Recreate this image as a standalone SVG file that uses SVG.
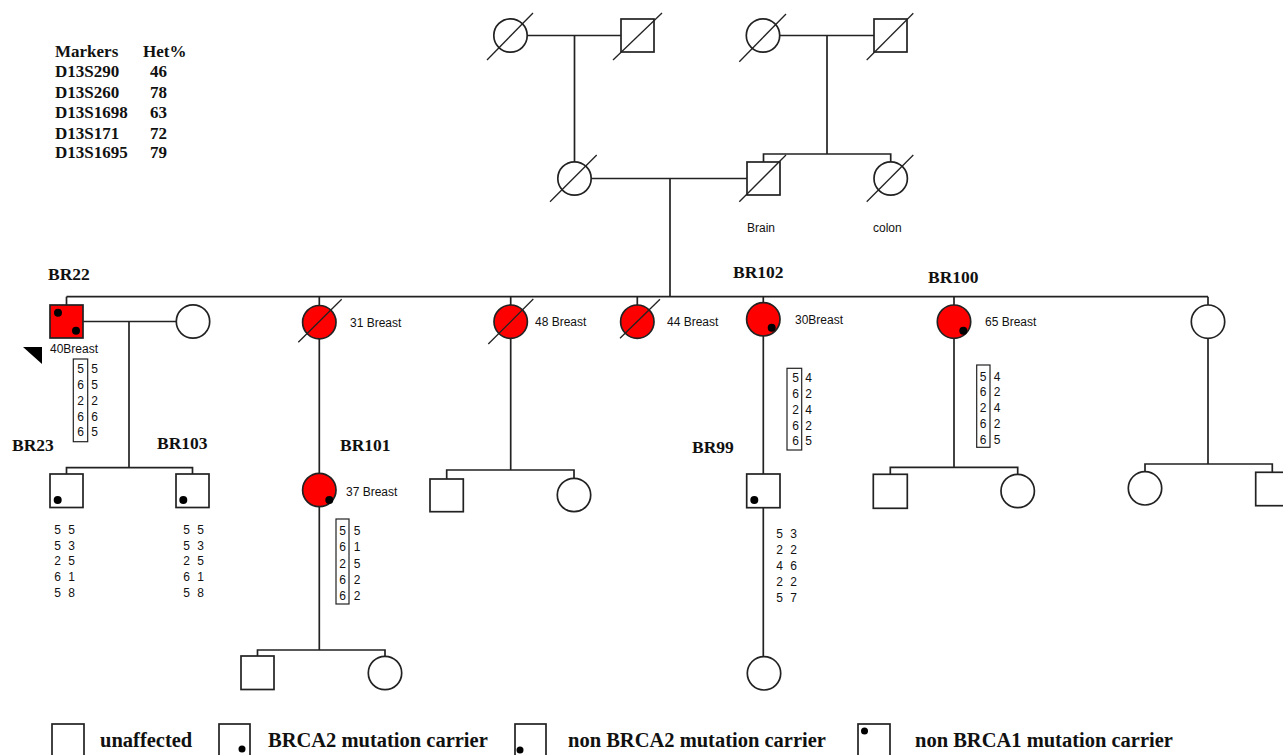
<svg xmlns="http://www.w3.org/2000/svg" width="1283" height="755" viewBox="0 0 1283 755">
<style>
.ln{stroke:#222;stroke-width:1.7;fill:none}
.nd{stroke:#222;stroke-width:1.7;fill:#fff}
.aff{stroke:#222;stroke-width:1.7;fill:#f00}
.sl{stroke:#222;stroke-width:1.3}
.dot{fill:#000}
.gb{stroke:#222;stroke-width:1.2;fill:none}
.sm{font-family:"Liberation Sans",Arial,sans-serif;font-size:12px;fill:#111}
.g{font-family:"Liberation Sans",Arial,sans-serif;font-size:12px;fill:#111;text-anchor:middle}
.lb{font-family:"Liberation Serif","Times New Roman",serif;font-weight:bold;font-size:17.5px;fill:#111}
.tb{font-family:"Liberation Serif","Times New Roman",serif;font-weight:bold;font-size:17px;fill:#111}
.lg{font-family:"Liberation Serif","Times New Roman",serif;font-weight:bold;font-size:20.5px;fill:#111}
</style>
<rect width="1283" height="755" fill="#fff"/>

<g id="markers">
<text class="tb" x="55" y="56.5">Markers</text><text class="tb" x="143" y="56.5">Het%</text>
<text class="tb" x="55" y="77">D13S290</text><text class="tb" x="150" y="77">46</text>
<text class="tb" x="55" y="97.5">D13S260</text><text class="tb" x="150" y="97.5">78</text>
<text class="tb" x="55" y="118">D13S1698</text><text class="tb" x="150" y="118">63</text>
<text class="tb" x="55" y="139">D13S171</text><text class="tb" x="150" y="139">72</text>
<text class="tb" x="55" y="158">D13S1695</text><text class="tb" x="150" y="158">79</text>
</g>

<g id="connectors">
<!-- gen I -->
<line class="ln" x1="527" y1="35.5" x2="621" y2="35.5"/>
<line class="ln" x1="574.5" y1="35.5" x2="574.5" y2="161.8"/>
<line class="ln" x1="780" y1="35.5" x2="874" y2="35.5"/>
<line class="ln" x1="827" y1="35.5" x2="827" y2="154"/>
<polyline class="ln" points="763.5,162 763.5,154 890.7,154 890.7,161.5"/>
<!-- gen II -->
<line class="ln" x1="591.2" y1="178.5" x2="747" y2="178.5"/>
<line class="ln" x1="670" y1="178.5" x2="670" y2="296.7"/>
<line class="ln" x1="66.5" y1="296.7" x2="1208" y2="296.7"/>
<line class="ln" x1="66.5" y1="296.7" x2="66.5" y2="305"/>
<line class="ln" x1="319.3" y1="296.7" x2="319.3" y2="305.5"/>
<line class="ln" x1="510.7" y1="296.7" x2="510.7" y2="305"/>
<line class="ln" x1="637.3" y1="296.7" x2="637.3" y2="305"/>
<line class="ln" x1="763.3" y1="296.7" x2="763.3" y2="302.6"/>
<line class="ln" x1="954" y1="296.7" x2="954" y2="305"/>
<line class="ln" x1="1208" y1="296.7" x2="1208" y2="305"/>
<!-- BR22 family -->
<line class="ln" x1="83" y1="321.5" x2="176.3" y2="321.5"/>
<line class="ln" x1="129" y1="321.5" x2="129" y2="467.7"/>
<polyline class="ln" points="66.5,474 66.5,467.7 192.5,467.7 192.5,474"/>
<!-- 31 Breast line -->
<line class="ln" x1="319.3" y1="339" x2="319.3" y2="473.3"/>
<line class="ln" x1="319.3" y1="506.7" x2="319.3" y2="650"/>
<polyline class="ln" points="257.5,656 257.5,650 385,650 385,656.3"/>
<!-- 48 Breast -->
<line class="ln" x1="510.7" y1="338.4" x2="510.7" y2="470"/>
<polyline class="ln" points="446.7,479 446.7,470 574,470 574,478.3"/>
<!-- BR102 -->
<line class="ln" x1="763.3" y1="336" x2="763.3" y2="474"/>
<line class="ln" x1="763.3" y1="507.7" x2="763.3" y2="656.6"/>
<!-- BR100 -->
<line class="ln" x1="954" y1="338.4" x2="954" y2="467.3"/>
<polyline class="ln" points="890.3,474.3 890.3,467.3 1017.7,467.3 1017.7,474.3"/>
<!-- right -->
<line class="ln" x1="1208" y1="338.4" x2="1208" y2="464"/>
<polyline class="ln" points="1145,471.6 1145,464 1272.3,464 1272.3,472.3"/>
</g>

<g id="gen1-f1"><circle class="nd" cx="510.5" cy="35.5" r="16.7"/><line class="sl" x1="487" y1="60" x2="533" y2="13"/></g>
<g id="gen1-m1"><rect class="nd" x="621" y="19" width="33" height="33"/><line class="sl" x1="613" y1="60" x2="662" y2="13"/></g>
<g id="gen1-f2"><circle class="nd" cx="763" cy="35.5" r="16.7"/><line class="sl" x1="739.3" y1="61.7" x2="786" y2="14"/></g>
<g id="gen1-m2"><rect class="nd" x="874" y="19" width="33" height="33"/><line class="sl" x1="866.7" y1="60" x2="913.3" y2="13.3"/></g>

<g id="gen2-mother"><circle class="nd" cx="574.5" cy="178.5" r="16.7"/><line class="sl" x1="550" y1="201.7" x2="596.7" y2="155"/></g>
<g id="gen2-father"><rect class="nd" x="747" y="162" width="33" height="33"/><line class="sl" x1="739.3" y1="201.7" x2="786" y2="155"/><text class="sm" x="747" y="232">Brain</text></g>
<g id="gen2-aunt"><circle class="nd" cx="890.7" cy="178.5" r="16.7"/><line class="sl" x1="866.7" y1="201.7" x2="913.3" y2="155"/><text class="sm" x="873" y="232">colon</text></g>

<g id="BR22">
<text class="lb" x="48" y="280">BR22</text>
<rect class="aff" x="50" y="305" width="33" height="33"/>
<circle class="dot" cx="58" cy="312.7" r="4"/><circle class="dot" cx="76" cy="330.7" r="4"/>
<text class="sm" x="50" y="353">40Breast</text>
<polygon points="23,347 42,347 42,364" fill="#000"/>
<rect class="gb" x="73.3" y="359" width="14.4" height="82.7"/>
<text class="g" x="80.5" y="372.5">5</text><text class="g" x="94.5" y="372.5">5</text>
<text class="g" x="80.5" y="388.5">6</text><text class="g" x="94.5" y="388.5">5</text>
<text class="g" x="80.5" y="404.5">2</text><text class="g" x="94.5" y="404.5">2</text>
<text class="g" x="80.5" y="420.5">6</text><text class="g" x="94.5" y="420.5">6</text>
<text class="g" x="80.5" y="436">6</text><text class="g" x="94.5" y="436">5</text>
</g>
<g id="BR22-wife"><circle class="nd" cx="193" cy="321.5" r="16.7"/></g>

<g id="BR23">
<text class="lb" x="12" y="451">BR23</text>
<rect class="nd" x="50" y="474" width="33" height="33.5"/>
<circle class="dot" cx="57.7" cy="500" r="4"/>
<text class="g" x="57.5" y="533.5">5</text><text class="g" x="71.5" y="533.5">5</text>
<text class="g" x="57.5" y="549.5">5</text><text class="g" x="71.5" y="549.5">3</text>
<text class="g" x="57.5" y="565">2</text><text class="g" x="71.5" y="565">5</text>
<text class="g" x="57.5" y="581">6</text><text class="g" x="71.5" y="581">1</text>
<text class="g" x="57.5" y="596.5">5</text><text class="g" x="71.5" y="596.5">8</text>
</g>
<g id="BR103">
<text class="lb" x="157" y="449">BR103</text>
<rect class="nd" x="176" y="474" width="33" height="33.5"/>
<circle class="dot" cx="183.3" cy="500" r="4"/>
<text class="g" x="186.5" y="533.5">5</text><text class="g" x="200.5" y="533.5">5</text>
<text class="g" x="186.5" y="549.5">5</text><text class="g" x="200.5" y="549.5">3</text>
<text class="g" x="186.5" y="565">2</text><text class="g" x="200.5" y="565">5</text>
<text class="g" x="186.5" y="581">6</text><text class="g" x="200.5" y="581">1</text>
<text class="g" x="186.5" y="596.5">5</text><text class="g" x="200.5" y="596.5">8</text>
</g>

<g id="sib-31"><circle class="aff" cx="319.3" cy="322.2" r="16.7"/><line class="sl" x1="298.3" y1="342.3" x2="341.7" y2="299.3"/><text class="sm" x="350" y="326.5">31 Breast</text></g>

<g id="BR101">
<text class="lb" x="340" y="451">BR101</text>
<circle class="aff" cx="319.3" cy="490" r="16.7"/>
<circle class="dot" cx="329.3" cy="500" r="4"/>
<text class="sm" x="346" y="495.5">37 Breast</text>
<rect class="gb" x="336" y="519" width="13" height="85"/>
<text class="g" x="342.5" y="534.5">5</text><text class="g" x="357" y="534.5">5</text>
<text class="g" x="342.5" y="551">6</text><text class="g" x="357" y="551">1</text>
<text class="g" x="342.5" y="567.5">2</text><text class="g" x="357" y="567.5">5</text>
<text class="g" x="342.5" y="583.5">6</text><text class="g" x="357" y="583.5">2</text>
<text class="g" x="342.5" y="599.5">6</text><text class="g" x="357" y="599.5">2</text>
</g>
<g id="BR101-son"><rect class="nd" x="241" y="656" width="33" height="33.5"/></g>
<g id="BR101-dau"><circle class="nd" cx="385" cy="673" r="16.7"/></g>

<g id="sib-48"><circle class="aff" cx="510.7" cy="321.7" r="16.7"/><line class="sl" x1="488.3" y1="344" x2="533.3" y2="299"/><text class="sm" x="535" y="326">48 Breast</text></g>
<g id="sib48-son"><rect class="nd" x="430" y="479" width="33.3" height="32.7"/></g>
<g id="sib48-dau"><circle class="nd" cx="574" cy="495" r="16.7"/></g>

<g id="sib-44"><circle class="aff" cx="637.3" cy="321.7" r="16.7"/><line class="sl" x1="620" y1="338.3" x2="660" y2="299.3"/><text class="sm" x="667" y="326">44 Breast</text></g>

<g id="BR102">
<text class="lb" x="733" y="278">BR102</text>
<circle class="aff" cx="763.3" cy="319.3" r="16.7"/>
<circle class="dot" cx="771.7" cy="327.7" r="4"/>
<text class="sm" x="795" y="323.5">30Breast</text>
<rect class="gb" x="787" y="368.3" width="14.7" height="81.7"/>
<text class="g" x="795.5" y="381.5">5</text><text class="g" x="808.5" y="381.5">4</text>
<text class="g" x="795.5" y="397.5">6</text><text class="g" x="808.5" y="397.5">2</text>
<text class="g" x="795.5" y="413.5">2</text><text class="g" x="808.5" y="413.5">4</text>
<text class="g" x="795.5" y="429.5">6</text><text class="g" x="808.5" y="429.5">2</text>
<text class="g" x="795.5" y="445">6</text><text class="g" x="808.5" y="445">5</text>
</g>

<g id="BR99">
<text class="lb" x="692" y="452.5">BR99</text>
<rect class="nd" x="746.7" y="474" width="33.3" height="33.7"/>
<circle class="dot" cx="754.3" cy="500" r="4"/>
<text class="g" x="779.5" y="537.5">5</text><text class="g" x="793.5" y="537.5">3</text>
<text class="g" x="779.5" y="553.5">2</text><text class="g" x="793.5" y="553.5">2</text>
<text class="g" x="779.5" y="570">4</text><text class="g" x="793.5" y="570">6</text>
<text class="g" x="779.5" y="586">2</text><text class="g" x="793.5" y="586">2</text>
<text class="g" x="779.5" y="602">5</text><text class="g" x="793.5" y="602">7</text>
</g>
<g id="BR99-dau"><circle class="nd" cx="764" cy="673.3" r="16.7"/></g>

<g id="BR100">
<text class="lb" x="928" y="282.5">BR100</text>
<circle class="aff" cx="954" cy="321.7" r="16.7"/>
<circle class="dot" cx="963.3" cy="330.7" r="4"/>
<text class="sm" x="985" y="325.5">65 Breast</text>
<rect class="gb" x="976.7" y="365" width="13.3" height="82.3"/>
<text class="g" x="983" y="380.5">5</text><text class="g" x="997" y="380.5">4</text>
<text class="g" x="983" y="396">6</text><text class="g" x="997" y="396">2</text>
<text class="g" x="983" y="411.5">2</text><text class="g" x="997" y="411.5">4</text>
<text class="g" x="983" y="427.5">6</text><text class="g" x="997" y="427.5">2</text>
<text class="g" x="983" y="443.5">6</text><text class="g" x="997" y="443.5">5</text>
</g>
<g id="BR100-son"><rect class="nd" x="873.3" y="474.3" width="34" height="34"/></g>
<g id="BR100-dau"><circle class="nd" cx="1017.7" cy="491" r="16.7"/></g>

<g id="sib-right"><circle class="nd" cx="1208" cy="321.7" r="16.7"/></g>
<g id="right-dau"><circle class="nd" cx="1145" cy="488.3" r="16.7"/></g>
<g id="right-son"><rect class="nd" x="1255.7" y="472.3" width="33.3" height="33.4"/></g>

<g id="legend">
<rect class="nd" x="52" y="724" width="32" height="40"/>
<text class="lg" x="100" y="747">unaffected</text>
<rect class="nd" x="219" y="724" width="31" height="40"/>
<circle class="dot" cx="242" cy="749" r="3.5"/>
<text class="lg" x="268" y="747">BRCA2 mutation carrier</text>
<rect class="nd" x="515" y="724" width="31" height="40"/>
<circle class="dot" cx="520" cy="750" r="3.5"/>
<text class="lg" x="568" y="747">non BRCA2 mutation carrier</text>
<rect class="nd" x="858" y="724" width="32" height="40"/>
<circle class="dot" cx="864.5" cy="731" r="3.5"/>
<text class="lg" x="915" y="747">non BRCA1 mutation carrier</text>
</g>
</svg>
